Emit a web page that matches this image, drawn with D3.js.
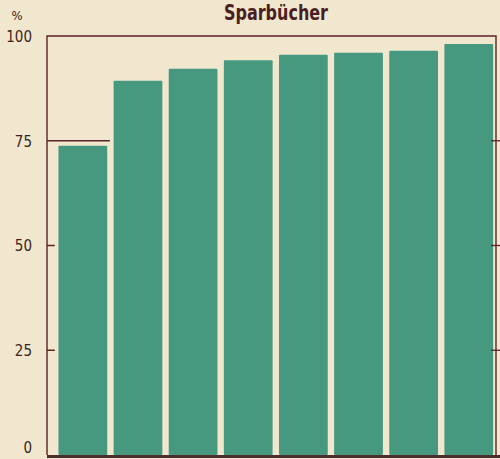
<!DOCTYPE html>
<html>
<head>
<meta charset="utf-8">
<script src="https://cdn.jsdelivr.net/npm/d3@7"></script>
<style>
  body { margin: 0; background: #f1e7cf; }
  svg { display: block; }
</style>
</head>
<body>
<div id="chart"></div>
<script>
// data
const categories = ["1", "2", "3", "4", "5", "6", "7", "8"];
const shares = [73.8, 89.3, 92.2, 94.2, 95.5, 96.0, 96.5, 98.1];
const yTicks = [0, 25, 50, 75, 100];
const title = "Sparbücher";
const unit = "%";

const width = 500;
const height = 459;
const plotLeft = 47, plotRight = 496, plotTop = 36, plotBottom = 455;

const svg = d3
  .select("#chart")
  .append("svg")
  .attr("width", width)
  .attr("height", height);

const ink = "#5c2226";
const bar = "#46987e";
const paper = "#f1e7cf";
const font = "'DejaVu Sans Condensed', 'Liberation Sans Narrow', sans-serif";

const x = d3
  .scaleBand()
  .domain(categories)
  .range([plotLeft, plotRight])
  .paddingInner(0.116)
  .paddingOuter(0.13)
  .align(0.8);

const y = d3.scaleLinear().domain([0, 100]).range([plotBottom, plotTop]);

//gridlines behind bars, only seen where no bar covers them
svg
  .append("g")
  .selectAll("line")
  .data(yTicks.filter((d) => d > 0 && d < 100))
  .enter()
  .append("line")
  .attr("x1", plotLeft)
  .attr("x2", plotRight)
  .attr("y1", (d) => y(d))
  .attr("y2", (d) => y(d))
  .attr("stroke", ink)
  .attr("stroke-width", 1.3);

//paper coloured band behind each bar hides the gridline in the gaps
const step = x.step();
svg
  .append("g")
  .selectAll("rect")
  .data(shares)
  .enter()
  .append("rect")
  .attr("x", (d, i) => x(categories[i]) + x.bandwidth() / 2 - step / 2 - 0.5)
  .attr("y", (d) => y(d))
  .attr("width", step + 1)
  .attr("height", (d) => plotBottom - y(d))
  .attr("fill", paper);

svg
  .append("g")
  .selectAll("rect")
  .data(shares)
  .enter()
  .append("rect")
  .attr("x", (d, i) => x(categories[i]))
  .attr("y", (d) => y(d))
  .attr("width", x.bandwidth())
  .attr("height", (d) => plotBottom - y(d))
  .attr("rx", 1)
  .attr("fill", bar);

//frame: top, left, right
svg
  .append("path")
  .attr("d", `M${plotLeft},${plotBottom}V${plotTop}H${plotRight}V${plotBottom}`)
  .attr("fill", "none")
  .attr("stroke", ink)
  .attr("stroke-width", 1.4);

//small ticks on the right side
svg
  .append("g")
  .selectAll("line")
  .data(yTicks.filter((d) => d > 0 && d < 100))
  .enter()
  .append("line")
  .attr("x1", plotRight - 5)
  .attr("x2", width)
  .attr("y1", (d) => y(d))
  .attr("y2", (d) => y(d))
  .attr("stroke", ink)
  .attr("stroke-width", 1.3);

//baseline
svg
  .append("line")
  .attr("x1", plotLeft)
  .attr("x2", width)
  .attr("y1", plotBottom + 1.5)
  .attr("y2", plotBottom + 1.5)
  .attr("stroke", "#4a2f2c")
  .attr("stroke-width", 3);

//y labels
const yAxis = d3.axisLeft(y).tickValues(yTicks).tickSize(0).tickPadding(0);
const axisG = svg
  .append("g")
  .attr("transform", "translate(32,0)")
  .call(yAxis);
axisG.select(".domain").remove();
axisG
  .selectAll("text")
  .attr("fill", "#3b2420")
  .attr("font-family", font)
  .attr("font-size", 15)
  .attr("dy", (d) => (d === 0 ? "-0.2em" : "0.36em"));

svg
  .append("text")
  .attr("x", 17)
  .attr("y", 20)
  .attr("text-anchor", "middle")
  .attr("fill", "#3b2420")
  .attr("font-family", font)
  .attr("font-size", 13)
  .text(unit);

svg
  .append("text")
  .attr("x", 276)
  .attr("y", 20)
  .attr("text-anchor", "middle")
  .attr("fill", "#4a1e22")
  .attr("font-family", font)
  .attr("font-weight", "bold")
  .attr("font-size", 21)
  .attr("textLength", 104)
  .attr("lengthAdjust", "spacingAndGlyphs")
  .text(title);
</script>
</body>
</html>
